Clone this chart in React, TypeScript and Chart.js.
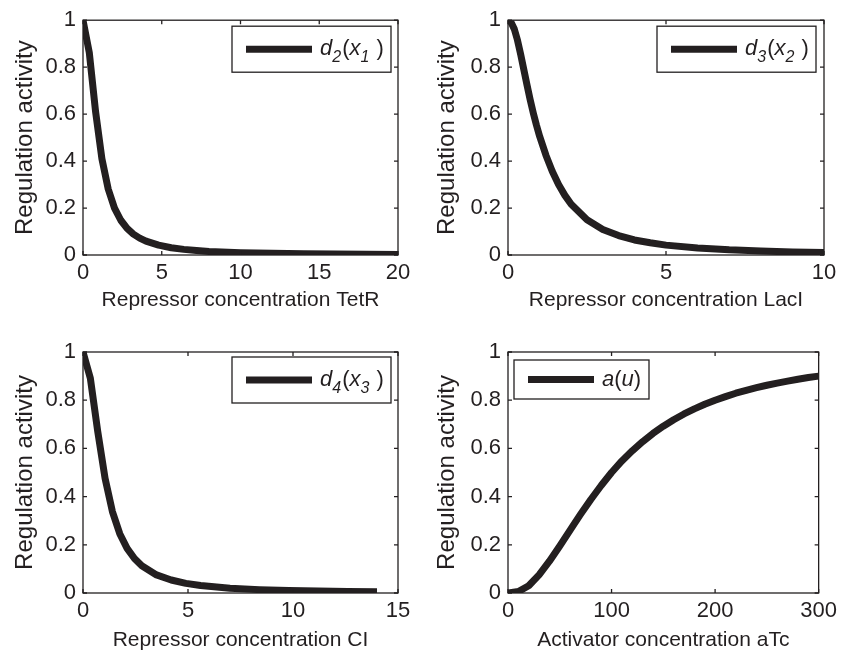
import React, { useEffect, useRef } from "react";
import { Chart, registerables } from "chart.js";

Chart.register(...registerables);

// ---- data ----
const tetrX = [0, 0.4, 0.8, 1.2, 1.6, 2.0, 2.4, 2.8, 3.2, 3.6, 4.0, 4.8, 5.6, 6.4, 7.2, 8, 10, 12, 14, 16, 18, 20];
const tetrY = [1, 0.862, 0.61, 0.41, 0.281, 0.2, 0.148, 0.113, 0.089, 0.072, 0.059, 0.042, 0.031, 0.024, 0.019, 0.015, 0.01, 0.007, 0.005, 0.004, 0.003, 0.0025];

const laciX = [0, 0.1, 0.2, 0.3, 0.4, 0.5, 0.6, 0.7, 0.8, 0.9, 1.0, 1.2, 1.4, 1.6, 1.8, 2.0, 2.5, 3, 3.5, 4, 4.5, 5, 6, 7, 8, 9, 10];
const laciY = [1, 0.99, 0.962, 0.915, 0.855, 0.79, 0.725, 0.662, 0.605, 0.553, 0.506, 0.425, 0.357, 0.3, 0.254, 0.216, 0.15, 0.109, 0.083, 0.064, 0.052, 0.042, 0.03, 0.022, 0.017, 0.013, 0.011];

const ciX = [0, 0.35, 0.7, 1.05, 1.4, 1.75, 2.1, 2.45, 2.8, 3.5, 4.2, 4.9, 5.6, 7, 8.4, 9.8, 11.2, 12.6, 14];
const ciY = [1, 0.891, 0.671, 0.476, 0.338, 0.246, 0.185, 0.143, 0.113, 0.075, 0.054, 0.04, 0.031, 0.02, 0.014, 0.01, 0.008, 0.006, 0.005];

const atcX = [0, 10, 20, 30, 40, 50, 60, 70, 80, 90, 100, 110, 120, 130, 140, 150, 160, 170, 180, 190, 200, 210, 220, 230, 240, 250, 260, 270, 280, 290, 300];
const atcY = [0, 0.006, 0.03, 0.075, 0.132, 0.195, 0.261, 0.326, 0.388, 0.446, 0.5, 0.548, 0.59, 0.628, 0.662, 0.692, 0.719, 0.743, 0.764, 0.783, 0.8, 0.815, 0.829, 0.841, 0.852, 0.862, 0.871, 0.879, 0.887, 0.894, 0.9];

const yLabel = "Regulation activity";
const xLabels = ["Repressor concentration TetR", "Repressor concentration LacI", "Repressor concentration CI", "Activator concentration aTc"];
const xMax = [20, 10, 15, 300];
const xStep = [5, 5, 5, 100];
// legend parts: [text, italic, subscript]
const legendParts: [string, boolean, boolean][][] = [
  [["d", true, false], ["2", true, true], ["(", false, false], ["x", true, false], ["1", true, true], [" )", false, false]],
  [["d", true, false], ["3", true, true], ["(", false, false], ["x", true, false], ["2", true, true], [" )", false, false]],
  [["d", true, false], ["4", true, true], ["(", false, false], ["x", true, false], ["3", true, true], [" )", false, false]],
  [["a", true, false], ["(", false, false], ["u", true, false], [")", false, false]],
];

const INK = "#231f20";
const FONT = "'Liberation Sans', Arial, sans-serif";

type PanelCfg = {
  left: number; top: number; w: number; h: number;
  pad: { top: number; right: number; left: number; bottom: number };
  yW: number; xH: number; yTitlePad: number; xTitlePad: number;
  leg: { anchor: "right" | "left"; dx: number; dy: number; w: number; h: number };
};

const panels: PanelCfg[] = [
  { left: 0, top: 0, w: 421, h: 325, pad: { top: 17, right: 23, left: 0, bottom: 0 }, yW: 83, xH: 70, yTitlePad: 11, xTitlePad: 12, leg: { anchor: "right", dx: 7, dy: 6, w: 159, h: 46 } },
  { left: 421, top: 0, w: 421, h: 325, pad: { top: 17, right: 18, left: 0, bottom: 0 }, yW: 87, xH: 70, yTitlePad: 12, xTitlePad: 12, leg: { anchor: "right", dx: 8, dy: 6, w: 159, h: 46 } },
  { left: 0, top: 325, w: 421, h: 330, pad: { top: 27, right: 23, left: 0, bottom: 0 }, yW: 83, xH: 62, yTitlePad: 11, xTitlePad: 2, leg: { anchor: "right", dx: 7, dy: 5, w: 159, h: 46 } },
  { left: 421, top: 325, w: 421, h: 330, pad: { top: 27, right: 18, left: 0, bottom: 0 }, yW: 87, xH: 62, yTitlePad: 12, xTitlePad: 2, leg: { anchor: "left", dx: 6, dy: 8, w: 135, h: 39 } },
];

const xsList = [tetrX, laciX, ciX, atcX];
const ysList = [tetrY, laciY, ciY, atcY];

const boxPlugin = {
  id: "matlabBox",
  afterDraw(chart: any, _args: any, opts: any) {
    const { ctx, chartArea: a } = chart;
    const xs = chart.scales.x;
    const ys = chart.scales.y;
    ctx.save();
    ctx.strokeStyle = INK;
    ctx.lineWidth = 1.3;
    ctx.strokeRect(a.left, a.top, a.right - a.left, a.bottom - a.top);
    const tl = 4;
    ctx.beginPath();
    xs.ticks.forEach((t: any) => {
      const px = xs.getPixelForValue(t.value);
      ctx.moveTo(px, a.bottom); ctx.lineTo(px, a.bottom - tl);
      ctx.moveTo(px, a.top); ctx.lineTo(px, a.top + tl);
    });
    ys.ticks.forEach((t: any) => {
      const py = ys.getPixelForValue(t.value);
      ctx.moveTo(a.left, py); ctx.lineTo(a.left + tl, py);
      ctx.moveTo(a.right, py); ctx.lineTo(a.right - tl, py);
    });
    ctx.stroke();

    // legend
    const lg = opts.leg;
    const bx = lg.anchor === "right" ? a.right - lg.dx - lg.w : a.left + lg.dx;
    const by = a.top + lg.dy;
    ctx.fillStyle = "#fff";
    ctx.fillRect(bx, by, lg.w, lg.h);
    ctx.lineWidth = 1.3;
    ctx.strokeRect(bx, by, lg.w, lg.h);
    const cy = by + lg.h / 2;
    ctx.beginPath();
    ctx.lineWidth = 7;
    ctx.lineCap = "butt";
    ctx.moveTo(bx + 14, cy);
    ctx.lineTo(bx + 80, cy);
    ctx.stroke();
    let tx = bx + 88;
    const base = cy + 6;
    ctx.fillStyle = INK;
    ctx.textBaseline = "alphabetic";
    ctx.textAlign = "left";
    (opts.parts as [string, boolean, boolean][]).forEach(([s, it, sub]) => {
      ctx.font = `${it ? "italic " : ""}${sub ? 16 : 22}px ${FONT}`;
      ctx.fillText(s, tx, sub ? base + 7 : base);
      tx += ctx.measureText(s).width + (sub ? 1 : 0);
    });
    ctx.restore();
  },
};

function Panel({ idx }: { idx: number }) {
  const ref = useRef<HTMLCanvasElement | null>(null);
  const cfg = panels[idx];
  useEffect(() => {
    if (!ref.current) return;
    const data = xsList[idx].map((x, i) => ({ x, y: ysList[idx][i] }));
    const tickFont = { family: FONT, size: 22 };
    const xTitleFont = { family: FONT, size: 21 };
    const yTitleFont = { family: FONT, size: 24 };
    const chart = new Chart(ref.current, {
      type: "line",
      data: {
        datasets: [
          {
            data,
            borderColor: INK,
            borderWidth: 7,
            pointRadius: 0,
            tension: 0,
            fill: false,
            borderJoinStyle: "round",
          } as any,
        ],
      },
      options: {
        animation: false,
        responsive: false,
        maintainAspectRatio: false,
        layout: { padding: cfg.pad },
        plugins: {
          legend: { display: false },
          tooltip: { enabled: false },
          matlabBox: { leg: cfg.leg, parts: legendParts[idx] },
        } as any,
        scales: {
          x: {
            type: "linear",
            min: 0,
            max: xMax[idx],
            grid: { display: false, drawTicks: false },
            border: { display: false },
            ticks: { stepSize: xStep[idx], color: INK, font: tickFont, padding: 5, maxRotation: 0, callback: (v: any) => String(Math.round(Number(v) * 10) / 10) },
            title: { display: true, text: xLabels[idx], color: INK, font: xTitleFont, padding: { top: 0, bottom: cfg.xTitlePad } },
            afterFit: (s: any) => { s.height = cfg.xH; },
          },
          y: {
            type: "linear",
            min: 0,
            max: 1,
            grid: { display: false, drawTicks: false },
            border: { display: false },
            ticks: { stepSize: 0.2, color: INK, font: tickFont, padding: 7, callback: (v: any) => String(Math.round(Number(v) * 10) / 10) },
            title: { display: true, text: yLabel, color: INK, font: yTitleFont, padding: { top: cfg.yTitlePad, bottom: 0 } },
            afterFit: (s: any) => { s.width = cfg.yW; },
          },
        },
      },
      plugins: [boxPlugin],
    } as any);
    return () => chart.destroy();
  }, [idx]);
  return (
    <canvas
      ref={ref}
      width={cfg.w}
      height={cfg.h}
      style={{ position: "absolute", left: cfg.left, top: cfg.top, width: cfg.w, height: cfg.h }}
    />
  );
}

export default function App() {
  return (
    <div style={{ position: "fixed", left: 0, top: 0, width: 842, height: 650, overflow: "hidden", background: "#fff" }}>
      {[0, 1, 2, 3].map((i) => (
        <Panel key={i} idx={i} />
      ))}
    </div>
  );
}
